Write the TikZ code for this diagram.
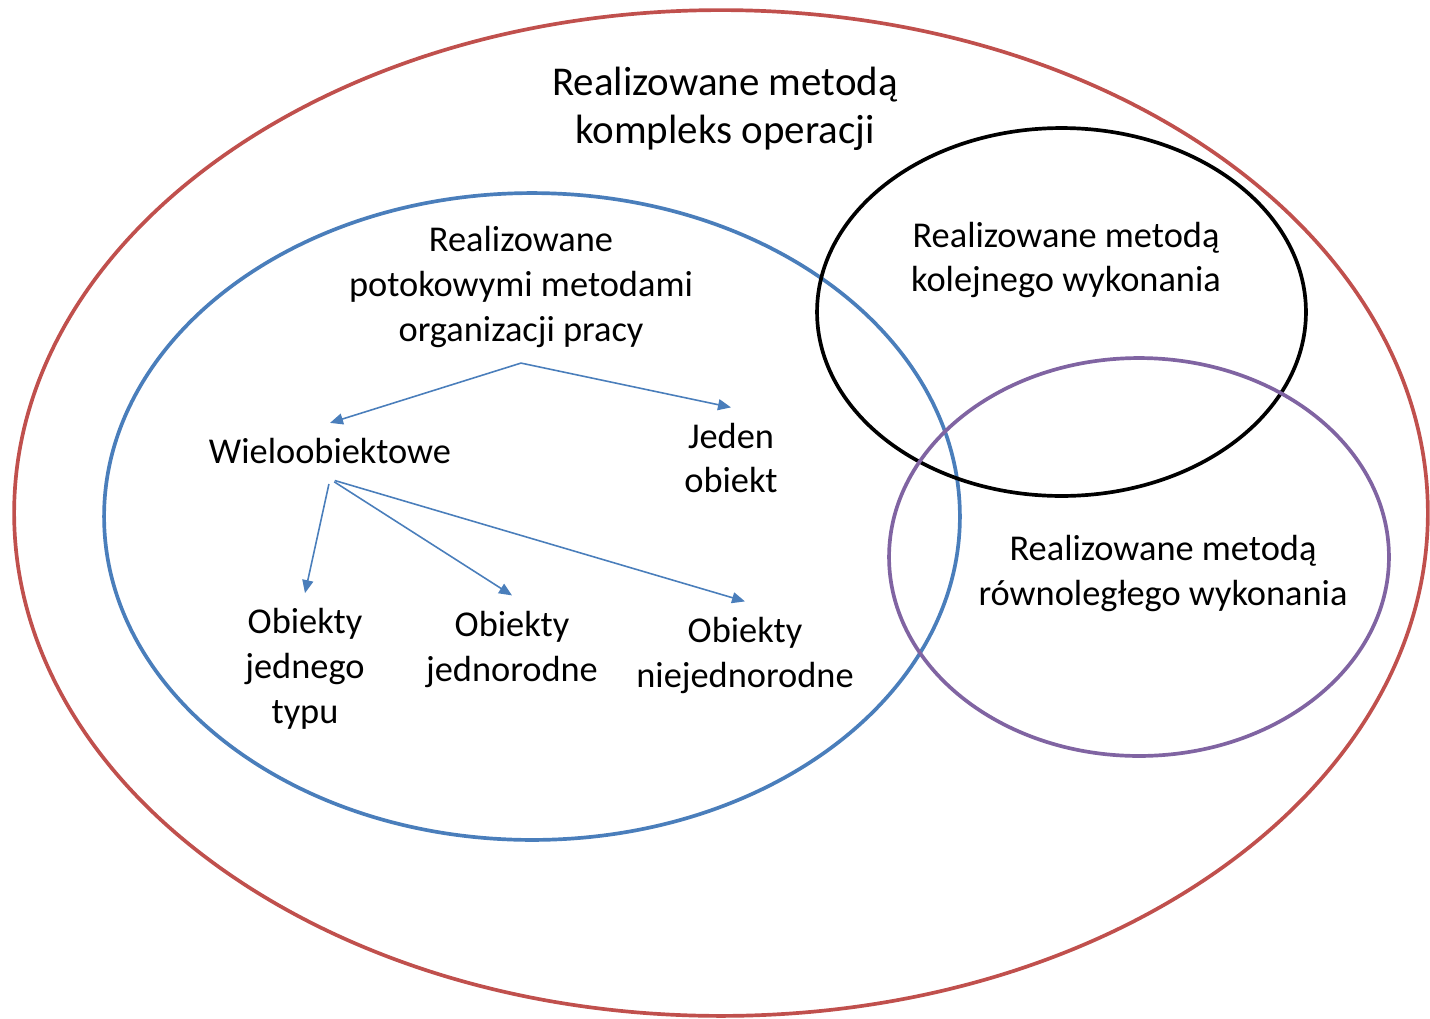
\documentclass[tikz,border=0pt]{standalone}
\usepackage{fontspec}
\setmainfont{Carlito}
\usetikzlibrary{arrows.meta}
\definecolor{outerred}{HTML}{C0504D}
\definecolor{officeblue}{HTML}{4A7EBB}
\definecolor{officepurple}{HTML}{8064A2}
\tikzset{
  ring/.style={line width=2.1pt},
  lbl/.style={align=center, inner xsep=0pt, inner ysep=0.3cm, font=\fontsize{20.7}{25.6}\selectfont},
  biglbl/.style={align=center, inner sep=0pt, font=\fontsize{23.3}{27.3}\selectfont},
  arr/.style={draw=officeblue, line width=0.9pt, -{Triangle[length=0.26cm,width=0.22cm]}, fill=officeblue}
}
\begin{document}
\begin{tikzpicture}[x=0.02cm, y=-0.02cm]
  \useasboundingbox (0,0) rectangle (1430,1018);
  % set boundaries
  \draw[ring, outerred] (721,513) ellipse [x radius=14.14cm, y radius=10.06cm];
  \draw[ring, officeblue] (532,516.5) ellipse [x radius=8.56cm, y radius=6.47cm];
  \draw[ring, black] (1061.5,312) ellipse [x radius=4.89cm, y radius=3.68cm];
  \draw[ring, officepurple] (1139,557) ellipse [x radius=5.0cm, y radius=3.98cm];

  % labels
  \node[biglbl] (kompleks) at (725,109) {Realizowane metodą\\kompleks operacji};
  \node[lbl] (potok) at (521,287) {Realizowane\\potokowymi metodami\\organizacji pracy};
  \node[lbl] (wielo) at (330,451) {Wieloobiektowe};
  \node[lbl] (jeden) at (731,458) {Jeden\\obiekt};
  \node[lbl] (typu) at (305,669) {Obiekty\\jednego\\typu};
  \node[lbl] (jednorodne) at (512,649) {Obiekty\\jednorodne};
  \node[lbl] (niejednorodne) at (745,655) {Obiekty\\niejednorodne};
  \node[lbl] (kolejne) at (1066,260) {Realizowane metodą\\kolejnego wykonania};
  \node[lbl] (rownolegle) at (1163,573) {Realizowane metodą\\równoległego wykonania};

  % hierarchy arrows
  \draw[arr] (potok.south) -- (wielo.north);
  \draw[arr] (potok.south) -- (jeden.north);
  \draw[arr, shorten <=0.1cm] (wielo.south) -- (typu.north);
  \draw[arr, shorten <=0.1cm] (wielo.south) -- (jednorodne.north);
  \draw[arr, shorten <=0.1cm] (wielo.south) -- (niejednorodne.north);
\end{tikzpicture}
\end{document}
